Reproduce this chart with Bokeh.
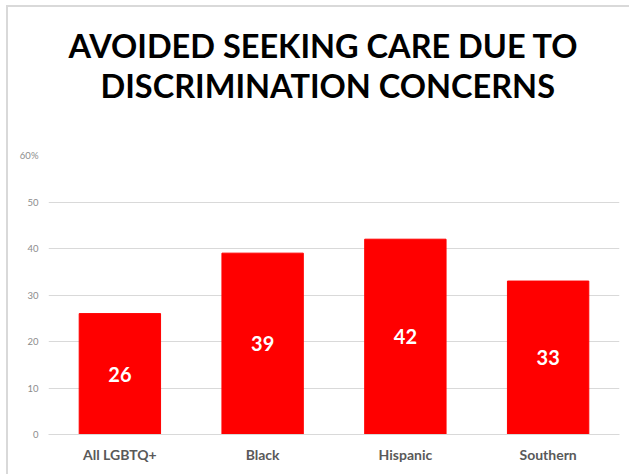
from bokeh.plotting import figure
from bokeh.models import Range1d, Title, ColumnDataSource, CustomJSTickFormatter, FixedTicker, InlineStyleSheet
from bokeh.core.properties import value
from bokeh.embed import file_html
from bokeh.resources import INLINE

categories = ["All LGBTQ+", "Black", "Hispanic", "Southern"]
values = [26, 39, 42, 33]
labels = ["26", "39", "42", "33"]
y_ticks = [0, 10, 20, 30, 40, 50, 60]
title_lines = ["AVOIDED SEEKING CARE DUE TO", "DISCRIMINATION CONCERNS"]

src = ColumnDataSource(dict(cat=categories, val=values, mid=[v / 2 for v in values], lab=labels))

FONT = "Lato"
p = figure(width=623, height=469, x_range=categories, y_range=Range1d(0, 60),
           output_backend="svg", toolbar_location=None,
           min_border_left=40, min_border_right=12, min_border_bottom=42, min_border_top=0)
p.margin = (7, 0, 0, 8)
p.stylesheets = [InlineStyleSheet(css=":host { box-shadow: -2px -2px 0 0 #d9d9d9; }")]

# stacked above the frame, nearest first: spacer, line 2, line 1, spacer
p.add_layout(Title(text=" ", standoff=49, text_font_size="1px"), "above")
p.add_layout(Title(text=title_lines[1], align="left", offset=52, standoff=-2,
                   text_font=FONT, text_font_size="32.5px", text_font_style="bold",
                   text_color="black"), "above")
p.add_layout(Title(text=title_lines[0], align="left", offset=20, standoff=0,
                   text_font=FONT, text_font_size="32.5px", text_font_style="bold",
                   text_color="black"), "above")
p.add_layout(Title(text=" ", standoff=13, text_font_size="1px"), "above")

p.vbar(x="cat", top="val", width=0.57, source=src, color="#ff0000")
p.text(x="cat", y="mid", text="lab", source=src, text_align="center", text_baseline="middle",
       text_color="white", text_font_style="bold", text_font_size="20px", text_font=value(FONT))

p.outline_line_color = None
p.xgrid.grid_line_color = None
p.ygrid.grid_line_color = "#d9d9d9"
p.yaxis.ticker = FixedTicker(ticks=y_ticks)
p.yaxis.formatter = CustomJSTickFormatter(code="return tick == 60 ? '60%' : String(tick);")
p.yaxis.axis_line_color = None
p.yaxis.major_tick_line_color = None
p.yaxis.minor_tick_line_color = None
p.yaxis.major_label_text_font_size = "9.5px"
p.yaxis.major_label_text_color = "#8c8c8c"
p.yaxis.major_label_text_font = FONT
p.yaxis.major_label_standoff = 4
p.xaxis.axis_line_color = "#d9d9d9"
p.xaxis.major_tick_line_color = None
p.xaxis.major_label_text_font_size = "14px"
p.xaxis.major_label_text_font_style = "bold"
p.xaxis.major_label_text_color = "#595959"
p.xaxis.major_label_text_font = FONT
p.xaxis.major_label_standoff = 5
p.x_range.range_padding = 0

open("out.html", "w").write(file_html(p, INLINE))
